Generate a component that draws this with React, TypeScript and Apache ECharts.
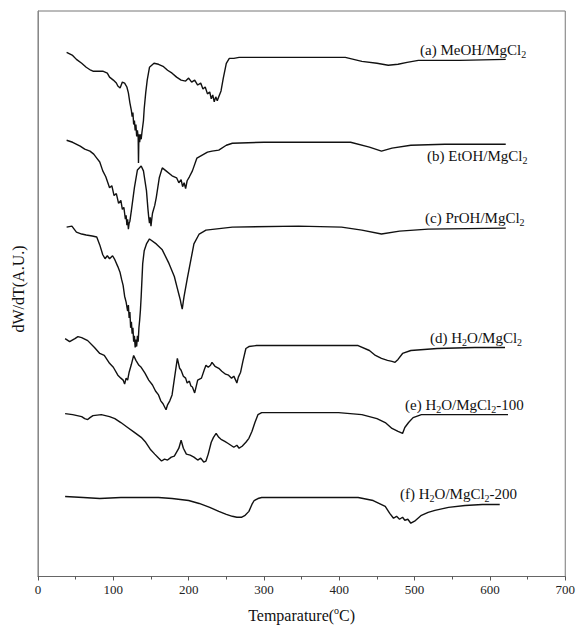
import React, { useEffect, useRef } from "react";
import * as echarts from "echarts";

// Temperature (°C) and dW/dT (arbitrary units, curves offset vertically)
const tempA = [38, 46, 51, 58, 64, 70, 73, 80, 86, 92,
  95, 100, 104, 106, 109, 112, 115, 118, 120, 122,
  124, 125, 126, 127, 128, 129, 130, 131, 132, 133,
  133.4, 134, 135, 136, 137, 138, 139, 140, 141, 143,
  145, 148, 154, 160, 166, 172, 178, 184, 190, 196,
  200, 204, 208, 212, 216, 219, 222, 225, 228, 230,
  232, 234, 236, 238, 240, 243, 246, 250, 254, 260,
  267, 300, 346, 380, 408, 430, 450, 465, 478, 490,
  505, 518, 560, 621];
const valA = [531, 528, 524, 520, 516, 513, 512, 512, 512, 510,
  506, 503, 500, 497, 495, 501, 500, 496, 490, 480,
  472, 466, 470, 458, 462, 452, 458, 446, 452, 445,
  419, 448, 440, 448, 443, 450, 456, 462, 474, 490,
  503, 516, 520, 519, 517, 513, 510, 506, 503, 502,
  505, 501, 503, 498, 500, 494, 496, 489, 491, 484,
  488, 481, 486, 482, 486, 492, 505, 520, 525, 525,
  526, 526, 526, 526, 526, 522, 520, 518, 519, 521,
  523, 523, 523, 524];

const tempB = [38, 46, 56, 62, 69, 74, 78, 82, 86, 90,
  95, 98, 101, 104, 107, 110, 112, 114, 116, 117,
  118, 119, 120, 121, 122, 124, 128, 132, 137, 140,
  144, 146, 147, 148, 149, 150, 151, 152, 155, 157,
  161, 165, 170, 178, 184, 187, 190, 192, 194, 196,
  198, 201, 205, 211, 218, 225, 231, 240, 250, 258,
  300, 346, 415, 440, 456, 470, 495, 540, 621];
const valB = [442, 440, 436, 433, 431, 428, 424, 420, 411, 405,
  394, 396, 386, 388, 378, 381, 372, 374, 362, 366,
  356, 362, 352, 358, 360, 371, 394, 412, 416, 411,
  391, 372, 364, 358, 364, 355, 362, 368, 376, 384,
  404, 414, 411, 406, 404, 399, 402, 395, 399, 393,
  401, 405, 411, 424, 427, 430, 431, 432, 437, 439,
  440, 440, 440, 435, 431, 434, 437, 438, 438];

const tempC = [38, 45, 51, 58, 64, 72, 78, 82, 86, 89,
  92, 95, 99, 102, 106, 109, 111, 113, 115, 117,
  119, 120, 121, 122, 123, 124, 125, 126, 127, 128,
  129, 130, 131, 132, 133, 134, 135, 136, 137, 139,
  141, 144, 148, 157, 165, 174, 181, 185, 187, 189,
  190, 191.5, 193, 194, 198, 203, 207, 214, 223, 258,
  346, 403, 430, 456, 480, 518, 621];
const valC = [354, 355, 349, 347, 346, 345, 344, 336, 326, 322,
  325, 322, 325, 321, 314, 308, 301, 295, 284, 278,
  269, 275, 262, 268, 252, 258, 246, 252, 238, 244,
  232, 240, 233, 244, 238, 252, 260, 270, 284, 317,
  330, 337, 342, 337, 331, 317, 304, 292, 286, 280,
  276, 271, 279, 284, 301, 321, 337, 347, 351, 354,
  355, 354, 351, 347, 350, 352, 353];

const tempD = [36, 42, 49, 53, 58, 66, 75, 82, 88, 95,
  100, 106, 110, 113, 115, 117, 119, 121, 124, 127,
  130, 134, 137, 142, 147, 152, 156, 160, 163, 166,
  168, 170, 172, 175, 178, 181, 185, 188, 190, 193,
  196, 198, 201, 203, 205, 208, 212, 217, 221, 223,
  226, 229, 231, 235, 240, 244, 249, 253, 257, 260,
  263, 264, 266, 269, 272, 276, 280, 290, 346, 425,
  440, 448, 456, 464, 470, 474, 478, 484, 495, 530,
  580, 620];
const valD = [241, 238, 241, 243, 242, 239, 232, 226, 224, 216,
  212, 204, 201, 199, 195, 201, 199, 207, 215, 224,
  219, 214, 212, 206, 199, 194, 188, 184, 178, 175,
  172, 169, 174, 178, 184, 200, 221, 211, 209, 203,
  201, 196, 198, 193, 192, 186, 199, 201, 210, 214,
  212, 214, 217, 213, 211, 208, 205, 204, 201, 203,
  198, 196, 202, 207, 218, 231, 233, 234, 234, 234,
  229, 224, 221, 219, 218, 217, 220, 226, 229, 231,
  232, 232];

const tempE = [36, 46, 58, 62, 66, 69, 73, 84, 95, 102,
  110, 119, 128, 137, 143, 149, 155, 160, 164, 168,
  172, 177, 181, 184, 187, 190, 193, 197, 202, 207,
  212, 216, 220, 223, 226, 230, 233, 236.5, 240, 243,
  248, 252, 256, 260, 264, 267, 271, 276, 280, 284,
  288, 292, 297, 346, 399, 430, 450, 461, 470, 478,
  484, 487, 492, 498, 509, 560, 624];
const valE = [165, 164, 162, 160, 159, 161, 163, 164, 162, 160,
  156, 151, 146, 141, 136, 129, 124, 120, 117, 119,
  118, 121, 122, 126, 130, 138, 130, 124, 123, 121,
  118, 120, 116, 117, 124, 136, 141, 145, 141, 139,
  137, 135, 133, 131, 133, 130, 132, 136, 140, 147,
  156, 164, 166, 166, 166, 164, 160, 156, 150, 147,
  145, 151, 156, 161, 164, 164, 164];

const tempF = [36, 60, 82, 110, 135, 160, 178, 200, 214, 228,
  240, 250, 258, 264, 270, 275, 280, 284, 287, 292,
  297, 346, 400, 425, 445, 461, 467, 472, 476, 480,
  484, 487, 491, 495, 500, 509, 518, 527, 545, 567,
  590, 613];
const valF = [81, 80, 79, 80, 80, 80, 79, 77, 74, 70,
  66, 63, 61, 60, 60, 62, 66, 73, 77, 79,
  80, 80, 80, 80, 77, 71, 64, 59, 61, 58,
  60, 57, 58, 54, 56, 62, 65, 67, 70, 72,
  73, 73];

const curves = [
  { name: "(a)", t: tempA, v: valA },
  { name: "(b)", t: tempB, v: valB },
  { name: "(c)", t: tempC, v: valC },
  { name: "(d)", t: tempD, v: valD },
  { name: "(e)", t: tempE, v: valE },
  { name: "(f)", t: tempF, v: valF },
];

const curveLabels = [
  "(a) MeOH/MgCl{sub|2}",
  "(b) EtOH/MgCl{sub|2}",
  "(c) PrOH/MgCl{sub|2}",
  "(d) H{sub|2}O/MgCl{sub|2}",
  "(e) H{sub|2}O/MgCl{sub|2}-100",
  "(f) H{sub|2}O/MgCl{sub|2}-200",
];
const labelPos = [
  [420, 50],
  [427, 156],
  [425, 218],
  [430, 338],
  [405, 405],
  [400, 494],
];

const FONT = "'Liberation Serif', 'DejaVu Serif', serif";

export default function App() {
  const ref = useRef<HTMLDivElement>(null);
  useEffect(() => {
    if (!ref.current) return;
    const chart = echarts.init(ref.current, undefined, { renderer: "svg" });
    const rich = {
      sub: { fontSize: 10, fontFamily: FONT, color: "#111", padding: [8, 0, 0, 0] },
    };
    chart.setOption({
      animation: false,
      backgroundColor: "#ffffff",
      grid: {
        left: 38,
        right: 10,
        top: 11,
        bottom: 44,
        show: true,
        borderColor: "#777",
        borderWidth: 1,
      },
      xAxis: {
        type: "value",
        min: 0,
        max: 700,
        interval: 100,
        name: "Temparature({sup|o}C)",
        nameLocation: "middle",
        nameGap: 29,
        nameTextStyle: {
          fontFamily: FONT,
          fontSize: 16,
          color: "#111",
          rich: {
            sup: { fontSize: 10, fontFamily: FONT, color: "#111", padding: [0, 0, 9, 0] },
          },
        },
        axisLine: { show: true, lineStyle: { color: "#666", width: 1 } },
        axisTick: { show: true, inside: false, length: 4, lineStyle: { color: "#555" } },
        minorTick: { show: true, splitNumber: 2, length: 3, lineStyle: { color: "#555" } },
        axisLabel: { fontFamily: FONT, fontSize: 13, color: "#222", margin: 6 },
        splitLine: { show: false },
      },
      yAxis: {
        type: "value",
        min: 0,
        max: 573,
        axisLine: { show: true, lineStyle: { color: "#888", width: 1 } },
        axisTick: { show: false },
        axisLabel: { show: false },
        splitLine: { show: false },
      },
      graphic: [
        {
          type: "text",
          x: 18,
          y: 289,
          rotation: Math.PI / 2,
          style: {
            text: "dW/dT(A.U.)",
            fontFamily: FONT,
            fontSize: 16,
            fill: "#111",
            align: "center",
            verticalAlign: "middle",
          },
        },
        ...curveLabels.map((txt, i) => ({
          type: "text",
          x: labelPos[i][0],
          y: labelPos[i][1],
          style: {
            text: txt,
            fontFamily: FONT,
            fontSize: 15,
            fill: "#111",
            verticalAlign: "middle",
            rich,
          },
        })),
      ],
      series: curves.map((c) => ({
        type: "line",
        name: c.name,
        showSymbol: false,
        symbol: "none",
        data: c.t.map((t, i) => [t, c.v[i]]),
        lineStyle: { color: "#111", width: 1.4 },
      })),
    });
    return () => chart.dispose();
  }, []);
  return (
    <div
      ref={ref}
      style={{ position: "absolute", left: 0, top: 0, width: 578, height: 628, background: "#fff" }}
    />
  );
}
